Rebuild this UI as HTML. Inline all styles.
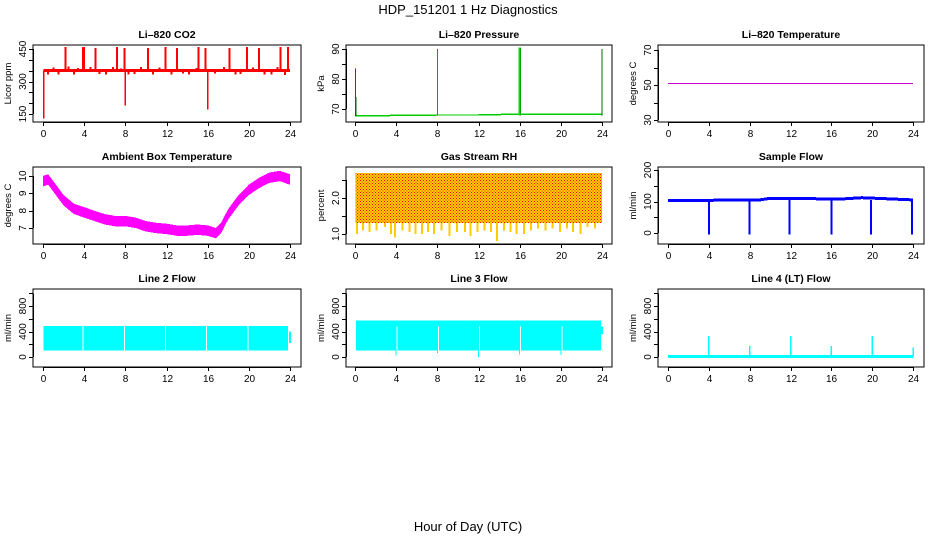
<!DOCTYPE html>
<html><head><meta charset="utf-8"><style>
body{margin:0;background:#fff}
svg{display:block;font-family:"Liberation Sans",sans-serif}
</style></head><body>
<svg id="c" width="936" height="540" xmlns="http://www.w3.org/2000/svg" shape-rendering="crispEdges">
<text x="468" y="14" text-anchor="middle" font-size="13">HDP_151201  1 Hz Diagnostics</text>
<text x="468" y="531" text-anchor="middle" font-size="13">Hour of Day (UTC)</text>
</svg>
<script>
// ---- data ----
const xTicks=[0,4,8,12,16,20,24];
const co2Base=350;
const co2SpikeHours=[2.2,3.9,4.0,5.1,7.2,7.9,10.2,11.9,13.0,15.1,15.8,18.1,19.8,21.0,23.1,23.8];
const co2SpikeVals=[460,460,460,455,460,455,455,460,455,460,455,455,460,455,460,460];
const co2DipHours=[0.05,8.0,16.0];
const co2DipVals=[130,190,170];
const co2BumpHours=[0.5,1.0,1.5,2.5,3.0,3.4,4.6,5.5,6.1,6.8,7.6,8.3,8.9,9.5,10.7,11.3,12.5,13.6,14.2,14.9,16.7,17.6,18.7,19.2,20.4,21.5,22.2,22.8,23.5];
const co2BumpVals=[332,365,332,370,332,362,368,335,332,368,360,332,335,368,332,365,332,338,332,362,338,368,332,335,365,332,332,368,330];
const presHours=[0,2.5,8,12,16,20,24];
const presVals=[67.8,67.8,68.0,68.0,68.3,68.3,68.3];
const presSpikeHours=[0.05,0.1,8.0,16.0,16.05,24.0];
const presSpikeVals=[83.5,74,90,90.5,90.5,90];
const tempHours=[0,24];
const tempVals=[51,51];
const ambHours=[0,0.5,1,2,3,4,5,6,7,8,9,10,11,12,13,14,15,16,16.8,17.3,18,19,20,21,22,23,24];
const ambVals=[9.7,9.8,9.4,8.6,8.1,7.9,7.7,7.5,7.4,7.4,7.3,7.1,7.0,6.95,6.85,6.85,6.9,6.85,6.7,7.0,7.8,8.6,9.2,9.6,9.9,10.0,9.8];
const ambHalf=0.3;
const rhTop=2.7;
const rhBottom=1.3;
const rhLowHours=[0.2,0.8,1.4,2.1,2.9,3.5,3.9,4.6,5.3,5.9,6.5,7.1,7.7,8.4,9.2,9.9,10.7,11.2,11.9,12.6,13.2,13.8,14.5,15.1,15.7,16.4,17.1,17.8,18.5,19.2,19.9,20.6,21.2,21.9,22.6,23.3];
const rhLowVals=[1.0,1.1,1.05,1.1,1.2,1.0,0.9,1.1,1.05,1.0,1.0,1.05,1.0,1.1,0.95,1.05,1.05,0.95,1.05,1.1,1.05,0.8,1.1,1.05,1.0,1.0,1.1,1.15,1.1,1.15,1.05,1.15,1.05,1.0,1.2,1.15];
const sfHours=[0,9,10,17,19,24];
const sfVals=[103,105,110,108,112,105];
const sfDipHours=[4.0,8.0,11.9,16.0,19.9,23.9];
const sfDipVals=[-5,-5,-5,-5,-5,-5];
const l2Low=100, l2High=490;
const l2GapHours=[3.9,7.9,11.9,15.9,19.9];
const l3Low=100, l3High=570;
const l3GapHours=[4.0,8.0,12.0,16.0,20.0];
const l3DipVals=[20,60,0,40,30];
const l4Base=10;
const l4SpikeHours=[4.0,8.0,12.0,16.0,20.0,24.0];
const l4SpikeVals=[330,170,330,170,330,150];

// ---- layout ----
const NS="http://www.w3.org/2000/svg";
const svg=document.getElementById('c');
const cols=[{bl:33,br:301,x0:43,x24:290},{bl:346,br:612,x0:355,x24:602},{bl:658,br:924,x0:668,x24:913}];
const rows=[{bt:45,bb:122},{bt:167,bb:244},{bt:289,bb:367}];
function el(tag,attrs,parent){const e=document.createElementNS(NS,tag);for(const k in attrs)e.setAttribute(k,attrs[k]);(parent||svg).appendChild(e);return e;}
function panel(r,c,name,title,ytitle,v1,p1,v2,p2,yt,yl){
  const C=cols[c],R=rows[r];
  const g=el('g',{});
  
  
  const sx=t=>C.x0+(C.x24-C.x0)*t/24;
  const sy=v=>p1+(p2-p1)*(v-v1)/(v2-v1);
  const t=el('text',{x:(C.bl+C.br)/2,y:R.bt-7,'text-anchor':'middle','font-size':'10.5','font-weight':'bold'},g);t.textContent=title;
  
  
  const yt2=el('text',{transform:`translate(11,${(R.bt+R.bb)/2+C.bl-33}) rotate(-90)`,'text-anchor':'middle','font-size':'9.5'},g);
  yt2.setAttribute('transform',`translate(${C.bl-22},${(R.bt+R.bb)/2}) rotate(-90)`);
  yt2.textContent=ytitle;
  
  
  const box=el('rect',{x:C.bl,y:R.bt,width:C.br-C.bl,height:R.bb-R.bt,fill:'none',stroke:'#000','stroke-width':1},g);
  
  
  xTicks.forEach(v=>{const x=Math.round(sx(v))+.5;el('line',{x1:x,x2:x,y1:R.bb,y2:R.bb+4,stroke:'#000'},g);
    const tx=el('text',{x:x,y:R.bb+15,'text-anchor':'middle','font-size':'10'},g);tx.textContent=v;
    
    });
  el('line',{x1:Math.round(sx(0))+.5,x2:Math.round(sx(24))+.5,y1:R.bb+.5,y2:R.bb+.5,stroke:'#000'},g);
  const ys=yt.map(sy);el('line',{x1:C.bl+.5,x2:C.bl+.5,y1:Math.min(...ys),y2:Math.max(...ys),stroke:'#000'},g);
  yt.forEach(v=>{const y=Math.round(sy(v))+.5;el('line',{x1:C.bl-4,x2:C.bl,y1:y,y2:y,stroke:'#000'},g);});
  yl.forEach(v=>{const y=sy(parseFloat(v));const tx=el('text',{transform:`translate(${C.bl-7},${y}) rotate(-90)`,'text-anchor':'middle','font-size':'10'},g);tx.textContent=v;
    
    });
  return {g,sx,sy,C,R};
}
function poly(P,ts,vs,color,w,name){const pts=ts.map((t,i)=>P.sx(t).toFixed(1)+','+P.sy(vs[i]).toFixed(1)).join(' ');
  const e=el('polyline',{points:pts,fill:'none',stroke:color,'stroke-width':w},P.g);
  
  return e;}
function vline(P,t,a,b,color,w,name){const x=P.sx(t);const e=el('line',{x1:x,x2:x,y1:P.sy(a),y2:P.sy(b),stroke:color,'stroke-width':w},P.g);
  
  return e;}
function band(P,t1,t2,lo,hi,color,name){const x=P.sx(t1),y=P.sy(hi);const e=el('rect',{x:x,y:y,width:P.sx(t2)-x,height:P.sy(lo)-y,fill:color},P.g);
  
  return e;}

// CO2
let P=panel(0,0,'co2','Li\u2013820 CO2','Licor ppm',150,114,450,49,[150,200,250,300,350,400,450],['150','300','450']);
poly(P,[0.05,24],[co2Base,co2Base],'#f00',3,'co2-baseline');
co2SpikeHours.forEach((t,i)=>vline(P,t,co2Base,co2SpikeVals[i],'#f00',2,'co2-spike'));
co2DipHours.forEach((t,i)=>vline(P,t,co2Base,co2DipVals[i],'#f00',1.5,'co2-dip'));
co2BumpHours.forEach((t,i)=>vline(P,t,co2Base,co2BumpVals[i],'#f00',2,'co2-bump'));
// Pressure
P=panel(0,1,'pressure','Li\u2013820 Pressure','kPa',70,109,90,49,[70,75,80,85,90],['70','80','90']);
poly(P,presHours,presVals,'#0c0',1.5,'pressure-line');
presSpikeHours.forEach((t,i)=>{vline(P,t,presVals[0],presSpikeVals[i],'#0d0',i==3||i==4?2:1,'pressure-spike');
  vline(P,t,presVals[0],presSpikeVals[i],'#000',0.6,'pressure-spike-dots').setAttribute('stroke-dasharray','1 1');});
// Temperature
P=panel(0,2,'li820-temperature','Li\u2013820 Temperature','degrees C',30,120,70,50,[30,40,50,60,70],['30','50','70']);
poly(P,tempHours,tempVals,'#c0c',1,'temperature-line');
// Ambient
P=panel(1,0,'ambient','Ambient Box Temperature','degrees C',7,228,10,176,[7,8,9,10],['7','8','9','10']);
{const up=ambHours.map((t,i)=>P.sx(t).toFixed(1)+','+P.sy(ambVals[i]+ambHalf).toFixed(1));
 const dn=ambHours.map((t,i)=>P.sx(t).toFixed(1)+','+P.sy(ambVals[i]-ambHalf).toFixed(1)).reverse();
 const e=el('polygon',{points:up.concat(dn).join(' '),fill:'#f0f'},P.g);
 
 }
// RH
P=panel(1,1,'gas-rh','Gas Stream RH','percent',1,234,2,198,[1,1.5,2,2.5],['1.0','2.0']);
{const d=el('defs',{},P.g);const pat=el('pattern',{id:'rhp',width:3,height:3,patternUnits:'userSpaceOnUse'},d);
 el('rect',{width:3,height:3,fill:'#fc0'},pat);el('rect',{x:0,y:0,width:1,height:1,fill:'#f00'},pat);el('rect',{x:1.5,y:1.5,width:1,height:1,fill:'#e22'},pat);}
band(P,0.05,24,rhBottom,rhTop,'url(#rhp)','rh-band');
rhLowHours.forEach((t,i)=>vline(P,t,rhBottom,rhLowVals[i],'#fc0',2,'rh-low-spike'));
// Sample flow
P=panel(1,2,'sample-flow','Sample Flow','ml/min',0,233,200,170,[0,50,100,150,200],['0','100','200']);
poly(P,sfHours,sfVals,'#00f',3,'sample-flow-line');
sfDipHours.forEach((t,i)=>vline(P,t,105,sfDipVals[i],'#00f',2,'sample-flow-dip'));
// Line 2
P=panel(2,0,'line2','Line 2 Flow','ml/min',0,357,800,306,[0,200,400,600,800,1000],['0','400','800']);
band(P,0.05,23.8,l2Low,l2High,'#0ff','line2-band');
l2GapHours.forEach(t=>vline(P,t,l2Low,l2High,'#fff',1,'line2-gap'));
vline(P,24,220,400,'#0ff',2,'line2-end');
// Line 3
P=panel(2,1,'line3','Line 3 Flow','ml/min',0,357,800,306,[0,200,400,600,800,1000],['0','400','800']);
band(P,0.1,23.9,l3Low,l3High,'#0ff','line3-band');
l3GapHours.forEach((t,i)=>{vline(P,t+0.1,l3Low,480,'#fff',1,'line3-gap');vline(P,t,l3Low,l3DipVals[i],'#0ff',1,'line3-dip');});
vline(P,24,360,480,'#0ff',2,'line3-end');
// Line 4
P=panel(2,2,'line4','Line 4 (LT) Flow','ml/min',0,357,800,306,[0,200,400,600,800,1000],['0','400','800']);
poly(P,[0,24],[l4Base,l4Base],'#0ff',3,'line4-baseline');
l4SpikeHours.forEach((t,i)=>vline(P,t,l4Base,l4SpikeVals[i],'#0ff',1.5,'line4-spike'));
</script>
</body></html>
